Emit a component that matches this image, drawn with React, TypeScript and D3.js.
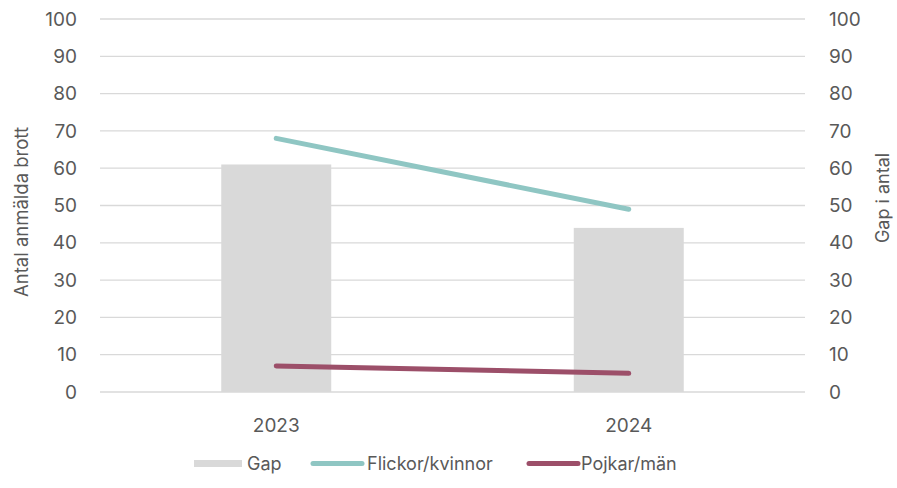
import React from "react";
import * as d3 from "d3";

const categories = ["2023", "2024"];
const gapValues = [61, 44];
const flickorValues = [68, 49];
const pojkarValues = [7, 5];
const tickValues = [0, 10, 20, 30, 40, 50, 60, 70, 80, 90, 100];

const W = 897;
const H = 488;
const FONT = "Inter, 'Open Sans', sans-serif";
const TXT = "#595959";
const GRID = "#d9d9d9";
const BAR = "#d9d9d9";
const TEAL = "#8fc6c3";
const MAROON = "#9c4f69";

export default function App() {
  const x = d3.scaleBand<string>().domain(categories).range([100, 805]);
  const y = d3.scaleLinear().domain([0, 100]).range([392, 19]);
  const barW = 110;
  const cx = (c: string) => (x(c) as number) + x.bandwidth() / 2;
  const line = d3
    .line<number>()
    .x((_, i) => cx(categories[i]))
    .y((d) => y(d));

  return (
    <svg
      width={W}
      height={H}
      style={{ position: "absolute", left: 0, top: 0, background: "#fff" }}
      fontFamily={FONT}
    >
      {tickValues.map((t) => (
        <g key={t}>
          <line x1={100} x2={805} y1={y(t)} y2={y(t)} stroke={GRID} strokeWidth={1.3} />
          <text x={77} y={y(t)} dy="0.35em" textAnchor="end" fontSize={19} fill={TXT}>
            {t}
          </text>
          <text x={829} y={y(t)} dy="0.35em" textAnchor="start" fontSize={19} fill={TXT}>
            {t}
          </text>
        </g>
      ))}
      {categories.map((c, i) => (
        <rect
          key={c}
          x={cx(c) - barW / 2}
          y={y(gapValues[i])}
          width={barW}
          height={y(0) - y(gapValues[i])}
          fill={BAR}
        />
      ))}
      <path d={line(flickorValues) || ""} fill="none" stroke={TEAL} strokeWidth={5} strokeLinecap="round" />
      <path d={line(pojkarValues) || ""} fill="none" stroke={MAROON} strokeWidth={5} strokeLinecap="round" />
      {categories.map((c) => (
        <text key={c} x={cx(c)} y={425} dy="0.35em" textAnchor="middle" fontSize={19} fill={TXT}>
          {c}
        </text>
      ))}
      <text
        transform={`translate(28,212) rotate(-90)`}
        textAnchor="middle"
        fontSize={18.5}
        fill={TXT}
      >
        Antal anmälda brott
      </text>
      <text
        transform={`translate(889,198) rotate(-90)`}
        textAnchor="middle"
        fontSize={18}
        fill={TXT}
      >
        Gap i antal
      </text>
      <g fontSize={18} fill={TXT}>
        <rect x={194} y={460} width={48} height={7} fill={BAR} />
        <text x={247} y={464} dy="0.35em">Gap</text>
        <line x1={313} x2={362} y1={463.5} y2={463.5} stroke={TEAL} strokeWidth={5} strokeLinecap="round" />
        <text x={367} y={464} dy="0.35em">Flickor/kvinnor</text>
        <line x1={529} x2={578} y1={463.5} y2={463.5} stroke={MAROON} strokeWidth={5} strokeLinecap="round" />
        <text x={581} y={464} dy="0.35em">Pojkar/män</text>
      </g>
    </svg>
  );
}
